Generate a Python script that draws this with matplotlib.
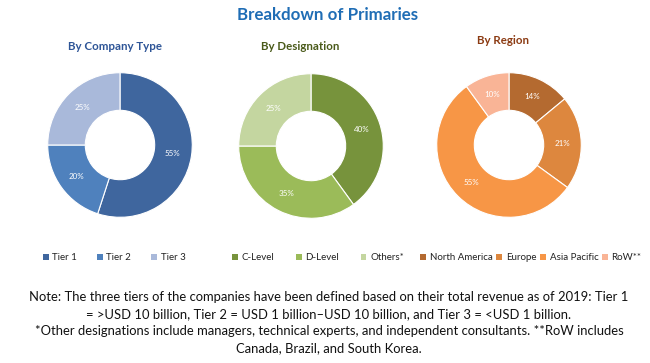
import numpy as np
import matplotlib
matplotlib.use("Agg")
import matplotlib.pyplot as plt
from matplotlib.patches import Patch

plt.rcParams['font.family'] = ['Lato', 'DejaVu Sans']

# data
company_labels = ["Tier 1", "Tier 2", "Tier 3"]
company_values = [55, 20, 25]
company_colors = ["#3F669E", "#4F81BD", "#A9B9DA"]

designation_labels = ["C-Level", "D-Level", "Others*"]
designation_values = [40, 35, 25]
designation_colors = ["#77933C", "#9BBB59", "#C4D6A0"]

region_labels = ["North America", "Europe", "Asia Pacific", "RoW**"]
region_values = [14, 21, 55, 10]
region_colors = ["#B46A30", "#DD873E", "#F79646", "#F9B496"]

W, H = 650, 363
fig = plt.figure(figsize=(W / 100, H / 100), dpi=100)
fig.patch.set_facecolor("white")


def px(x, y):
    return x / W, 1 - y / H


def donut(cx, cy, r, values, colors, label_texts):
    ax = fig.add_axes([(cx - r) / W, 1 - (cy + r) / H, 2 * r / W, 2 * r / H])
    wedges, _ = ax.pie(values, colors=colors, startangle=90, counterclock=False,
                       radius=1.0, wedgeprops=dict(width=0.52, edgecolor="white", linewidth=0.8))
    ax.set_xlim(-1.01, 1.01)
    ax.set_ylim(-1.01, 1.01)
    # percentage labels in the middle of the ring
    start = 90.0
    total = float(sum(values))
    for v, t in zip(values, label_texts):
        mid = np.deg2rad(start - 360.0 * v / total / 2)
        ax.text(0.74 * np.cos(mid), 0.74 * np.sin(mid), t, ha="center", va="center",
                color="white", fontsize=5.8)
        start -= 360.0 * v / total
    return ax


donut(120, 145, 73, company_values, company_colors, [f"{v}%" for v in company_values])
donut(311, 146, 73, designation_values, designation_colors, [f"{v}%" for v in designation_values])
donut(509, 145, 73, region_values, region_colors, [f"{v}%" for v in region_values])

# titles
fig.text(*px(328, 15), "Breakdown of Primaries", ha="center", va="center",
         fontsize=12.2, fontweight="bold", color="#1F6DB5")
fig.text(*px(115, 46), "By Company Type", ha="center", va="center",
         fontsize=8.3, fontweight="bold", color="#2E5597")
fig.text(*px(300, 46), "By Designation", ha="center", va="center",
         fontsize=8.3, fontweight="bold", color="#4A5A1A")
fig.text(*px(503, 41), "By Region", ha="center", va="center",
         fontsize=8.3, fontweight="bold", color="#8B3A12")


def legend(cx, cy, labels, colors, spacing):
    handles = [Patch(facecolor=c, edgecolor="none") for c in colors]
    fig.legend(handles, labels, loc="center", bbox_to_anchor=px(cx, cy), ncol=len(labels),
               frameon=False, fontsize=7, handlelength=0.6, handleheight=0.6,
               handletextpad=0.4, columnspacing=spacing, borderpad=0, labelcolor="#222222")


legend(114, 258, company_labels, company_colors, 2.0)
legend(318, 258, designation_labels, designation_colors, 2.2)
legend(531, 258, region_labels, region_colors, 0.35)

note_lines = [
    "Note: The three tiers of the companies have been defined based on their total revenue as of 2019: Tier 1",
    "= >USD 10 billion, Tier 2 = USD 1 billion\u2013USD 10 billion, and Tier 3 = <USD 1 billion.",
    "*Other designations include managers, technical experts, and independent consultants. **RoW includes",
    "Canada, Brazil, and South Korea.",
]
for i, line in enumerate(note_lines):
    fig.text(*px(329, 297 + 17 * i), line, ha="center", va="center", fontsize=9.4, color="#111111")

fig.savefig("out.png", dpi=100, facecolor="white")
